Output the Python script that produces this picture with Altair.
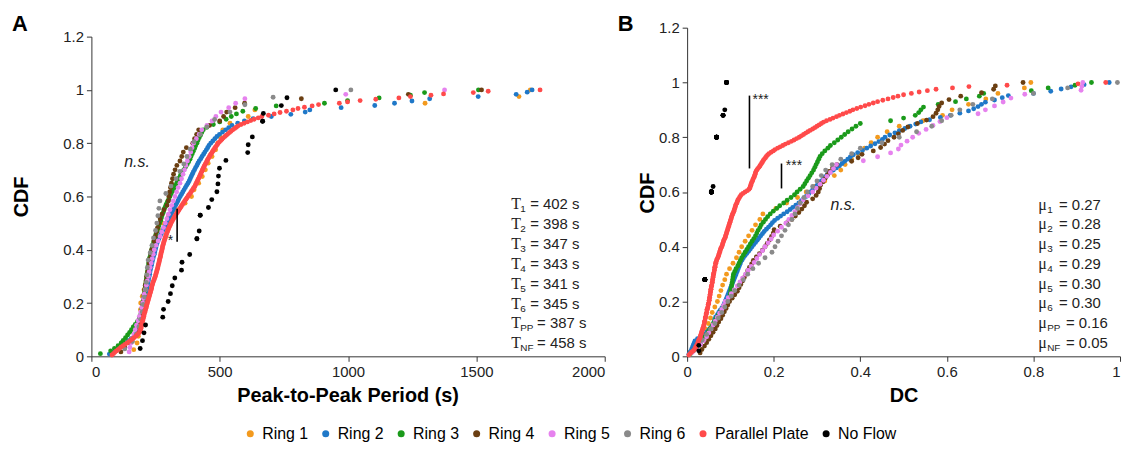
import altair as alt
import pandas as pd

FONT = "Liberation Sans"
SERIES = ["Ring 1", "Ring 2", "Ring 3", "Ring 4", "Ring 5", "Ring 6", "Parallel Plate", "No Flow"]
COLORS = ["#F39A1E", "#1F78C8", "#1A9A1A", "#6B3F12", "#E682EE", "#8A8A8A", "#FF4A4A", "#000000"]

# ---------------- Panel A: peak-to-peak period samples (s) ----------------
period_ring1 = [165, 178, 183, 186, 188, 190, 191, 192, 198, 205,
                212, 218, 224, 229, 236, 242, 247, 252, 262, 278,
                300, 330, 365, 390, 400, 418, 432, 444, 455, 470,
                484, 492, 500, 512, 540, 611, 637, 1300, 1666, 1710]
period_ring2 = [70, 82, 94, 105, 118, 130, 143, 155, 166, 175,
                180, 184, 188, 191, 194, 196, 197, 198, 199, 201,
                202, 204, 205, 206, 207, 209, 210, 212, 213, 215,
                217, 218, 220, 222, 223, 225, 227, 228, 230, 232,
                234, 236, 238, 240, 242, 245, 247, 249, 251, 253,
                256, 259, 263, 267, 271, 275, 280, 284, 289, 293,
                297, 302, 306, 310, 315, 319, 323, 328, 332, 337,
                341, 346, 351, 356, 361, 366, 371, 376, 381, 385,
                389, 393, 397, 402, 406, 411, 415, 420, 426, 431,
                437, 442, 448, 453, 458, 465, 473, 481, 489, 499,
                511, 523, 535, 548, 570, 596, 630, 701, 777, 833,
                851, 973, 1104, 1181, 1249, 1318, 1507, 1655, 1698, 1717]
period_ring3 = [35, 75, 90, 104, 116, 124, 133, 141, 149, 156,
                163, 171, 179, 186, 190, 193, 195, 197, 199, 200,
                202, 204, 205, 207, 208, 210, 211, 213, 214, 216,
                217, 219, 220, 222, 223, 225, 227, 230, 232, 235,
                237, 240, 243, 246, 249, 252, 256, 259, 263, 266,
                270, 273, 276, 280, 283, 287, 291, 296, 301, 306,
                311, 316, 321, 326, 332, 337, 342, 347, 353, 360,
                366, 373, 379, 384, 388, 393, 397, 402, 406, 411,
                415, 420, 425, 430, 436, 450, 475, 500, 525, 545,
                565, 590, 640, 720, 908, 998, 1121, 1243, 1298, 1508]
period_ring4 = [115, 130, 150, 160, 170, 180, 185, 190, 193, 196,
                198, 200, 203, 205, 208, 210, 213, 215, 219, 222,
                225, 228, 232, 235, 240, 244, 249, 253, 258, 262,
                268, 275, 283, 295, 300, 302, 305, 308, 312, 316,
                320, 326, 333, 345, 352, 358, 370, 395, 402, 410,
                418, 460, 500, 515, 527, 560, 597, 818, 1235, 1520]
period_ring5 = [147, 150, 155, 160, 166, 171, 176, 182, 187, 192,
                196, 200, 203, 206, 210, 214, 218, 222, 225, 229,
                233, 237, 241, 245, 252, 260, 268, 274, 281, 288,
                294, 300, 306, 313, 319, 326, 332, 338, 345, 351,
                357, 363, 368, 374, 381, 387, 392, 398, 409, 420,
                430, 450, 470, 485, 505, 535, 562, 598, 991, 1376]
period_ring6 = [130, 160, 175, 185, 192, 198, 202, 207, 211, 214,
                216, 218, 221, 229, 236, 242, 250, 255, 259, 263,
                267, 290, 310, 330, 345, 360, 372, 385, 400, 425,
                450, 480, 540, 598, 708, 1011]
period_pp = [80, 86, 91, 97, 104, 110, 116, 124, 131, 139,
             146, 153, 160, 166, 173, 178, 183, 188, 190, 192,
             193, 194, 195, 196, 197, 199, 200, 201, 203, 204,
             205, 206, 208, 209, 211, 212, 214, 215, 216, 218,
             219, 221, 222, 224, 225, 227, 228, 230, 231, 233,
             234, 235, 236, 238, 239, 241, 243, 245, 247, 249,
             250, 252, 253, 255, 256, 258, 259, 260, 261, 263,
             264, 265, 266, 268, 269, 270, 271, 272, 274, 275,
             276, 277, 278, 280, 281, 283, 284, 286, 288, 289,
             291, 293, 295, 297, 299, 301, 303, 306, 308, 310,
             313, 316, 319, 322, 325, 328, 331, 335, 338, 341,
             345, 348, 351, 355, 358, 362, 365, 369, 372, 376,
             379, 383, 387, 390, 394, 397, 401, 404, 406, 409,
             411, 414, 416, 419, 421, 424, 426, 428, 431, 433,
             435, 438, 440, 443, 446, 449, 451, 454, 457, 460,
             463, 466, 470, 473, 476, 480, 483, 487, 491, 494,
             499, 504, 509, 514, 520, 526, 532, 538, 544, 551,
             558, 565, 572, 583, 595, 608, 621, 634, 650, 664,
             690, 712, 735, 760, 785, 805, 830, 860, 885, 966,
             998, 1047, 1108, 1198, 1243, 1323, 1372, 1488, 1546, 1748]
period_nf = [190, 199, 205, 211, 278, 281, 299, 308, 315, 325,
             351, 353, 383, 411, 411, 420, 424, 424, 456, 469,
             489, 493, 495, 499, 524, 609, 611, 627, 667, 667,
             670, 740, 762, 952]

# ---------------- Panel B: duty cycle samples ----------------
dc_ring1 = [0.010, 0.022, 0.030, 0.037, 0.043, 0.049, 0.054, 0.058, 0.064, 0.070,
            0.074, 0.078, 0.082, 0.087, 0.091, 0.098, 0.106, 0.114, 0.120, 0.126,
            0.134, 0.142, 0.150, 0.158, 0.168, 0.175, 0.205, 0.230, 0.255, 0.275,
            0.295, 0.318, 0.340, 0.355, 0.365, 0.380, 0.395, 0.410, 0.425, 0.440,
            0.462, 0.490, 0.545, 0.590, 0.612, 0.650, 0.690, 0.718, 0.779, 0.794]
dc_ring2 = [0.004, 0.007, 0.010, 0.012, 0.014, 0.016, 0.018, 0.024, 0.032, 0.040,
            0.045, 0.050, 0.054, 0.058, 0.061, 0.063, 0.064, 0.066, 0.070, 0.073,
            0.076, 0.080, 0.083, 0.086, 0.088, 0.090, 0.092, 0.094, 0.096, 0.098,
            0.100, 0.102, 0.104, 0.106, 0.108, 0.110, 0.112, 0.114, 0.116, 0.118,
            0.120, 0.122, 0.124, 0.127, 0.130, 0.134, 0.138, 0.142, 0.146, 0.150,
            0.154, 0.158, 0.162, 0.166, 0.170, 0.174, 0.178, 0.183, 0.188, 0.193,
            0.197, 0.202, 0.209, 0.216, 0.223, 0.231, 0.238, 0.244, 0.251, 0.258,
            0.264, 0.269, 0.275, 0.280, 0.285, 0.290, 0.295, 0.300, 0.305, 0.310,
            0.315, 0.319, 0.324, 0.331, 0.338, 0.345, 0.352, 0.358, 0.364, 0.371,
            0.377, 0.384, 0.394, 0.405, 0.415, 0.424, 0.434, 0.443, 0.451, 0.457,
            0.468, 0.480, 0.490, 0.503, 0.515, 0.528, 0.540, 0.560, 0.585, 0.608,
            0.630, 0.650, 0.662, 0.672, 0.680, 0.689, 0.710, 0.728, 0.742, 0.800,
            0.840, 0.864, 0.887, 0.917, 0.975]
dc_ring3 = [0.008, 0.014, 0.020, 0.026, 0.031, 0.036, 0.041, 0.045, 0.049, 0.053,
            0.057, 0.061, 0.064, 0.068, 0.072, 0.076, 0.080, 0.084, 0.089, 0.094,
            0.097, 0.099, 0.100, 0.101, 0.102, 0.103, 0.104, 0.105, 0.106, 0.107,
            0.110, 0.113, 0.117, 0.120, 0.123, 0.126, 0.130, 0.134, 0.138, 0.142,
            0.146, 0.150, 0.154, 0.158, 0.161, 0.164, 0.168, 0.171, 0.176, 0.181,
            0.186, 0.192, 0.199, 0.207, 0.214, 0.223, 0.231, 0.240, 0.248, 0.254,
            0.261, 0.268, 0.272, 0.276, 0.280, 0.284, 0.288, 0.292, 0.295, 0.298,
            0.301, 0.304, 0.307, 0.312, 0.318, 0.325, 0.331, 0.340, 0.348, 0.356,
            0.364, 0.372, 0.381, 0.390, 0.400, 0.470, 0.500, 0.527, 0.535, 0.540,
            0.546, 0.580, 0.620, 0.645, 0.675, 0.685, 0.795, 0.834, 0.896, 0.934]
dc_ring4 = [0.030, 0.034, 0.040, 0.045, 0.050, 0.055, 0.060, 0.065, 0.069, 0.073,
            0.078, 0.082, 0.086, 0.090, 0.094, 0.098, 0.104, 0.110, 0.116, 0.120,
            0.124, 0.128, 0.132, 0.136, 0.140, 0.144, 0.149, 0.153, 0.160, 0.167,
            0.174, 0.180, 0.185, 0.190, 0.195, 0.199, 0.201, 0.215, 0.230, 0.242,
            0.250, 0.258, 0.265, 0.271, 0.276, 0.290, 0.298, 0.303, 0.306, 0.308,
            0.314, 0.319, 0.324, 0.328, 0.336, 0.346, 0.380, 0.395, 0.404, 0.430,
            0.447, 0.456, 0.464, 0.478, 0.488, 0.498, 0.510, 0.532, 0.553, 0.568,
            0.575, 0.579, 0.582, 0.588, 0.605, 0.632, 0.680, 0.708, 0.712, 0.776]
dc_ring5 = [0.012, 0.022, 0.031, 0.038, 0.045, 0.050, 0.055, 0.060, 0.065, 0.070,
            0.075, 0.080, 0.084, 0.088, 0.095, 0.102, 0.109, 0.116, 0.122, 0.128,
            0.135, 0.141, 0.148, 0.155, 0.161, 0.167, 0.174, 0.180, 0.187, 0.194,
            0.200, 0.209, 0.218, 0.228, 0.235, 0.242, 0.249, 0.255, 0.261, 0.268,
            0.279, 0.290, 0.298, 0.307, 0.315, 0.323, 0.331, 0.338, 0.345, 0.407,
            0.440, 0.470, 0.488, 0.494, 0.508, 0.521, 0.535, 0.552, 0.568, 0.584,
            0.600, 0.672, 0.689, 0.710, 0.730, 0.748, 0.780, 0.910, 0.912, 0.914]
dc_ring6 = [0.015, 0.025, 0.035, 0.045, 0.055, 0.064, 0.072, 0.080, 0.087, 0.094,
            0.102, 0.110, 0.120, 0.130, 0.140, 0.152, 0.165, 0.180, 0.196, 0.203,
            0.210, 0.218, 0.226, 0.234, 0.242, 0.249, 0.255, 0.261, 0.270, 0.278,
            0.290, 0.300, 0.310, 0.320, 0.335, 0.355, 0.380, 0.400, 0.450, 0.490,
            0.530, 0.565, 0.588, 0.610, 0.630, 0.660, 0.705, 0.800, 0.879, 0.994]
dc_pp = [0.004, 0.007, 0.010, 0.014, 0.017, 0.019, 0.020, 0.022, 0.024, 0.025,
         0.026, 0.027, 0.029, 0.030, 0.031, 0.032, 0.033, 0.034, 0.035, 0.036,
         0.037, 0.038, 0.039, 0.040, 0.040, 0.041, 0.042, 0.042, 0.043, 0.044,
         0.044, 0.045, 0.046, 0.046, 0.047, 0.048, 0.049, 0.049, 0.050, 0.051,
         0.051, 0.052, 0.052, 0.053, 0.053, 0.054, 0.054, 0.055, 0.055, 0.056,
         0.056, 0.057, 0.058, 0.058, 0.059, 0.059, 0.060, 0.060, 0.061, 0.061,
         0.062, 0.063, 0.063, 0.064, 0.064, 0.065, 0.066, 0.066, 0.067, 0.068,
         0.069, 0.071, 0.072, 0.073, 0.074, 0.075, 0.076, 0.077, 0.078, 0.080,
         0.081, 0.082, 0.083, 0.084, 0.085, 0.087, 0.088, 0.089, 0.090, 0.091,
         0.092, 0.093, 0.094, 0.095, 0.096, 0.097, 0.098, 0.099, 0.100, 0.101,
         0.102, 0.103, 0.104, 0.105, 0.107, 0.108, 0.109, 0.110, 0.111, 0.112,
         0.113, 0.115, 0.116, 0.117, 0.119, 0.121, 0.123, 0.125, 0.129, 0.134,
         0.139, 0.143, 0.145, 0.146, 0.147, 0.148, 0.149, 0.151, 0.152, 0.153,
         0.155, 0.156, 0.157, 0.158, 0.159, 0.161, 0.163, 0.166, 0.168, 0.170,
         0.172, 0.174, 0.176, 0.178, 0.181, 0.183, 0.186, 0.189, 0.194, 0.199,
         0.203, 0.209, 0.215, 0.221, 0.227, 0.234, 0.241, 0.247, 0.253, 0.259,
         0.264, 0.269, 0.274, 0.279, 0.284, 0.290, 0.295, 0.300, 0.305, 0.310,
         0.315, 0.322, 0.330, 0.337, 0.345, 0.352, 0.360, 0.368, 0.376, 0.383,
         0.392, 0.401, 0.411, 0.420, 0.430, 0.440, 0.452, 0.464, 0.476, 0.487,
         0.500, 0.518, 0.536, 0.555, 0.575, 0.613, 0.651, 0.739, 0.903, 0.967]
dc_nf = [0.027, 0.027,
         0.041, 0.041, 0.041, 0.041, 0.041, 0.041, 0.041, 0.041, 0.041, 0.041, 0.041, 0.041,
         0.056, 0.056, 0.056, 0.056, 0.056, 0.056, 0.056, 0.056,
         0.056, 0.056, 0.056, 0.056, 0.056, 0.056, 0.056, 0.056,
         0.060,
         0.068, 0.068, 0.068, 0.068, 0.068, 0.068, 0.068, 0.068, 0.068,
         0.083, 0.083, 0.083, 0.083,
         0.087,
         0.091, 0.091, 0.091, 0.091, 0.091]

# ---------------- annotation texts ----------------
stat_subs = ["1", "2", "3", "4", "5", "6", "PP", "NF"]
period_means = ["= 402 s", "= 398 s", "= 347 s", "= 343 s", "= 341 s", "= 345 s", "= 387 s", "= 458 s"]
dc_means = ["= 0.27", "= 0.28", "= 0.25", "= 0.29", "= 0.30", "= 0.30", "= 0.16", "= 0.05"]


def long_frame(lists):
    rows = []
    for i, (name, vals) in enumerate(zip(SERIES, lists)):
        for v in vals:
            rows.append({"series": name, "z": i, "value": v})
    return pd.DataFrame(rows)


color_scale = alt.Scale(domain=SERIES, range=COLORS)

AXIS_STYLE = dict(grid=False, labelFont=FONT, labelFontSize=15, labelColor="#222",
                  titleFont=FONT, titleFontSize=20, titleFontWeight="bold", titleColor="#000",
                  domainColor="#333", tickColor="#333", tickSize=5, labelPadding=3)


def scatter(df, xscale, yscale, xaxis, yaxis, legend):
    return alt.Chart(df).transform_window(
        cdf="cume_dist()", sort=[alt.SortField("value", order="ascending")], groupby=["series"]
    ).mark_circle(size=24, opacity=1).encode(
        x=alt.X("value:Q", scale=xscale, axis=xaxis),
        y=alt.Y("cdf:Q", scale=yscale, axis=yaxis),
        color=alt.Color("series:N", scale=color_scale, legend=legend),
        order=alt.Order("z:Q"),
    )


def stat_block(x0, y_top, y_step, symbol, rests, dx_single, dx_double):
    df = pd.DataFrame({
        "value": [x0] * 8,
        "cdf": [y_top - y_step * i for i in range(8)],
        "sym": [symbol] * 8,
        "sub": stat_subs,
        "rest": rests,
        "wide": [len(s) > 1 for s in stat_subs],
    })
    base = alt.Chart(df)
    enc = dict(x="value:Q", y="cdf:Q")
    sym = base.mark_text(align="left", baseline="middle", font="Liberation Serif",
                         fontSize=16, color="#222").encode(text="sym:N", **enc)
    sub = base.mark_text(align="left", baseline="middle", font=FONT, fontSize=10,
                         dx=9, dy=5, color="#222").encode(text="sub:N", **enc)
    r1 = base.transform_filter("!datum.wide").mark_text(
        align="left", baseline="middle", font=FONT, fontSize=15, dx=dx_single, color="#222"
    ).encode(text="rest:N", **enc)
    r2 = base.transform_filter("datum.wide").mark_text(
        align="left", baseline="middle", font=FONT, fontSize=15, dx=dx_double, color="#222"
    ).encode(text="rest:N", **enc)
    return [sym, sub, r1, r2]


def rules(xs, y1s, y2s):
    df = pd.DataFrame({"value": xs, "cdf": y1s, "cdf2": y2s})
    return alt.Chart(df).mark_rule(color="black", strokeWidth=1.6).encode(
        x="value:Q", y="cdf:Q", y2="cdf2:Q")


def labels(xs, ys, texts, **kw):
    df = pd.DataFrame({"value": xs, "cdf": ys, "t": texts})
    return alt.Chart(df).mark_text(font=FONT, color="#222", **kw).encode(
        x="value:Q", y="cdf:Q", text="t:N")


def panel_letter(letter, px, py):
    return alt.Chart(pd.DataFrame({"t": [letter]})).mark_text(
        font=FONT, fontSize=22, fontWeight="bold", color="#000"
    ).encode(text="t:N", x=alt.value(px), y=alt.value(py))


# ---------------- Panel A ----------------
H = 331
df_a = long_frame([period_ring1, period_ring2, period_ring3, period_ring4,
                   period_ring5, period_ring6, period_pp, period_nf])
legend = alt.Legend(orient="none", legendX=152, legendY=401, direction="horizontal",
                    columns=8, title=None, symbolType="circle", symbolSize=50,
                    labelFont=FONT, labelFontSize=16, labelColor="#000",
                    columnPadding=9, labelOffset=4, symbolStrokeWidth=0, symbolOpacity=1)
a_points = scatter(
    df_a,
    alt.Scale(domain=[0, 2000], nice=False),
    alt.Scale(domain=[0, 1.2], range=[H, 9], nice=False),
    alt.Axis(values=[0, 500, 1000, 1500, 2000], format="d", title="Peak-to-Peak Period (s)",
             titleX=258, titleY=40, titleBaseline="middle", **AXIS_STYLE),
    alt.Axis(values=[0, 0.2, 0.4, 0.6, 0.8, 1, 1.2], format="~g", title="CDF", titleAngle=270,
             titleX=-70, titleY=170, titleBaseline="middle", titleAlign="center", **AXIS_STYLE),
    legend,
)
a_layers = [a_points]
a_layers += stat_block(1636, 0.572, 0.0748, "T", period_means, 19, 26)
a_layers += [rules([334], [0.43], [0.554]),
             labels([308], [0.445], ["*"], fontSize=14, baseline="middle", dy=3),
             labels([178], [0.729], ["n.s."], fontSize=16, fontStyle="italic", baseline="middle"),
             panel_letter("A", -72, -4)]
panel_a = alt.layer(*a_layers).properties(width=517, height=H)

# ---------------- Panel B ----------------
df_b = long_frame([dc_ring1, dc_ring2, dc_ring3, dc_ring4, dc_ring5, dc_ring6, dc_pp, dc_nf])
b_points = scatter(
    df_b,
    alt.Scale(domain=[0, 1], nice=False),
    alt.Scale(domain=[0, 1.2], nice=False),
    alt.Axis(values=[0, 0.2, 0.4, 0.6, 0.8, 1], format="~g", title="DC",
             titleX=218, titleY=40, titleBaseline="middle",
             labelAlign={"condition": {"test": "datum.value >= 1", "value": "right"}, "value": "center"},
             **AXIS_STYLE),
    alt.Axis(values=[0, 0.2, 0.4, 0.6, 0.8, 1, 1.2], format="~g", title="CDF", titleAngle=270,
             titleX=-40, titleY=166, titleBaseline="middle", titleAlign="center", **AXIS_STYLE),
    None,
)
b_layers = [b_points]
b_layers += stat_block(0.811, 0.554, 0.0721, "\u03bc", dc_means, 21, 28)
b_layers += [rules([0.144, 0.218], [0.686, 0.613], [0.952, 0.704]),
             labels([0.151, 0.228], [0.946, 0.704], ["***", "***"], fontSize=14,
                    baseline="middle", align="left", dy=3),
             labels([0.361], [0.554], ["n.s."], fontSize=16, fontStyle="italic", baseline="middle"),
             panel_letter("B", -62, -4)]
panel_b = alt.layer(*b_layers).properties(width=436, height=H)

chart = alt.hconcat(panel_a, panel_b, spacing=83, bounds="flush").resolve_scale(
    color="shared"
).properties(
    padding={"left": 84, "top": 17, "right": 1039, "bottom": 440},
    autosize=alt.AutoSizeParams(type="none"),
).configure_view(stroke=None)

chart.save("out.html", embed_options={"renderer": "svg", "actions": False})
